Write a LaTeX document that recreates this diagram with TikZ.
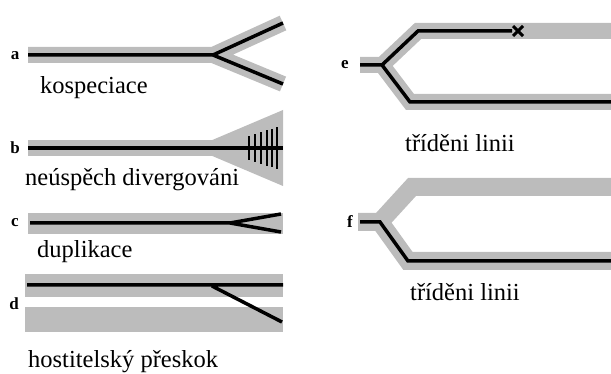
\documentclass[tikz,border=0pt]{standalone}
\usepackage{fontspec}
\setmainfont{Liberation Serif}
\usetikzlibrary{calc}
\definecolor{bandgray}{RGB}{188,188,188}
\begin{document}
\begin{tikzpicture}[x=1pt,y=-1pt,
  host/.style={draw=bandgray, line width=16pt},
  para/.style={draw=black, line width=3.5pt},
  tag/.style={font=\fontsize{17}{19}\selectfont\bfseries, inner sep=0pt},
  caption/.style={font=\fontsize{24.5}{29}\selectfont, anchor=west, inner sep=0pt}]
\useasboundingbox (0,0) rectangle (611,374);
%%%%%%%%%%%%%%%%%%%%%%%%%%%%%%% a: kospeciace
\node[tag](a) at (15,56){a};
\coordinate(a0) at (28,55);
\coordinate(a1) at (213,55);
\coordinate(a2) at (283,23);
\coordinate(a3) at (283,84);
\draw[host] (a0) -- (a1) (a2) -- (a1) -- (a3);
\draw[para] (a0) -- (a1) (a2) -- (a1) -- (a3);
\node[caption](kosp) at (40,88){kospeciace};
%%%%%%%%%%%%%%%%%%%%%%%%%%%%%%% b: neuspech divergovani
\node[tag](b) at (15,148){b};
\coordinate(b0) at (28,148);
\coordinate(b1) at (212,148);
\coordinate(b2) at (283,148);
\fill[bandgray] (210,141) -- (283,110) -- (283,186) -- (210,155) -- cycle;
\draw[host] (b0) -- (b2);
\draw[para] (b0) -- (b2);
\foreach \x in {249,255,261,267,272,277}
  \draw[black, line width=1.6pt] (\x,{148-0.32*(\x-212)}) -- (\x,{148+0.32*(\x-212)});
\node[caption](neusp) at (25,180){neúspěch divergováni};
%%%%%%%%%%%%%%%%%%%%%%%%%%%%%%% c: duplikace
\node[tag](c) at (15,223){c};
\coordinate(c0) at (28,224);
\coordinate(c1) at (283,224);
\coordinate(c2) at (230,223);
\draw[host, line width=21pt] (c0) -- (c1);
\draw[para] (30,223) -- (c2) -- (281,214) (c2) -- (281,232);
\node[caption](dupl) at (37,252){duplikace};
%%%%%%%%%%%%%%%%%%%%%%%%%%%%%%% d: hostitelsky preskok
\node[tag](d) at (14,304){d};
\coordinate(d0) at (25,286);
\coordinate(d1) at (283,286);
\coordinate(d2) at (212,286);
\coordinate(d3) at (282,322);
\draw[host, line width=23pt] (d0) -- (d1);
\draw[host, line width=25pt] (25,320) -- (283,320);
\draw[para] (27,285) -- (283,285) (d2) -- (d3);
\node[caption](host) at (28,362){hostitelský přeskok};
%%%%%%%%%%%%%%%%%%%%%%%%%%%%%%% e: trideni linii (x)
\node[tag](e) at (345,65){e};
\coordinate(e0) at (360,65);
\coordinate(e1) at (382,65);
\coordinate(e2) at (418,31);
\coordinate(e3) at (410,102);
\coordinate(ex) at (518,31);
\draw[host] (e0) -- (e1) -- (e2) -- (611,31) (e1) -- (e3) -- (611,102);
\draw[para] (e0) -- (e1) -- (e2) -- (512,31) (e1) -- (e3) -- (611,102);
\draw[black, line width=3pt] ($(ex)+(-5,-5)$) -- ($(ex)+(5,5)$) ($(ex)+(-5,5)$) -- ($(ex)+(5,-5)$);
\node[caption](tre) at (405,143){tříděni linii};
%%%%%%%%%%%%%%%%%%%%%%%%%%%%%%% f: trideni linii
\node[tag](f) at (350,222){f};
\coordinate(f0) at (358,222);
\coordinate(f1) at (380,222);
\coordinate(f2) at (412,187);
\coordinate(f3) at (408,261);
\draw[host, line width=18pt] (f0) -- (f1) -- (f2) -- (611,187) (f1) -- (f3) -- (611,261);
\draw[para] (360,222) -- (f1) -- (f3) -- (611,261);
\node[caption](trf) at (410,292){tříděni linii};
\end{tikzpicture}
\end{document}
